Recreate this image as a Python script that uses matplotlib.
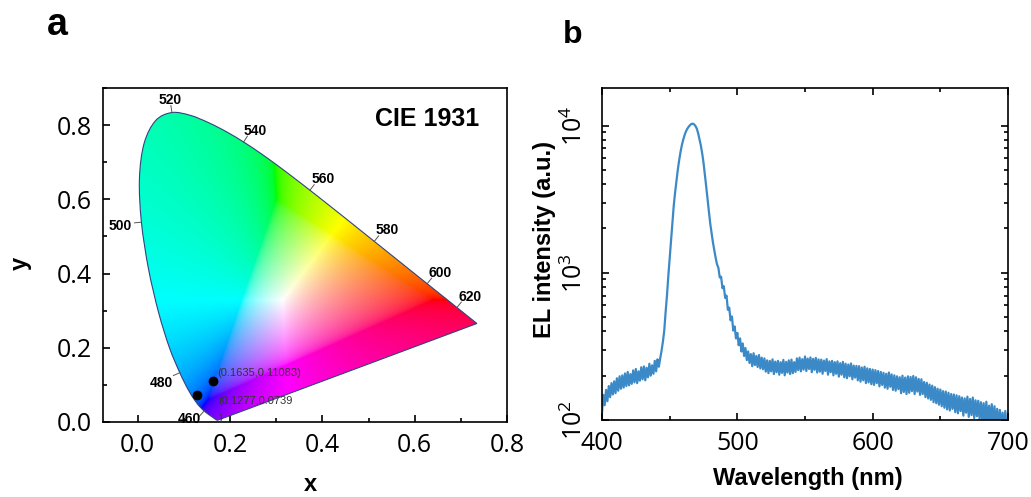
import numpy as np
import matplotlib
matplotlib.use("Agg")
import matplotlib.pyplot as plt
from matplotlib.path import Path
from matplotlib.patches import PathPatch
from matplotlib.ticker import MultipleLocator, LogLocator, NullFormatter

plt.rcParams['font.family'] = ['Open Sans', 'DejaVu Sans']
plt.rcParams['mathtext.fontset'] = 'custom'
plt.rcParams['mathtext.rm'] = 'Open Sans'
plt.rcParams['mathtext.it'] = 'Open Sans:italic'
plt.rcParams['mathtext.bf'] = 'Open Sans:bold'

BOLD = dict(family='Liberation Sans', weight='bold')

# ---- CIE 1931 2-degree spectral locus (chromaticity x, y every 5 nm) ----
locus_wl = [380, 385, 390, 395, 400, 405, 410, 415, 420, 425, 430, 435, 440, 445,
            450, 455, 460, 465, 470, 475, 480, 485, 490, 495, 500, 505, 510, 515,
            520, 525, 530, 535, 540, 545, 550, 555, 560, 565, 570, 575, 580, 585,
            590, 595, 600, 605, 610, 615, 620, 625, 630, 635, 640, 645, 650, 655,
            660, 665, 670, 675, 680, 685, 690, 695, 700]
locus_x = [0.1741, 0.1740, 0.1738, 0.1736, 0.1733, 0.1730, 0.1726, 0.1721, 0.1714,
           0.1703, 0.1689, 0.1669, 0.1644, 0.1611, 0.1566, 0.1510, 0.1440, 0.1355,
           0.1241, 0.1096, 0.0913, 0.0687, 0.0454, 0.0235, 0.0082, 0.0039, 0.0139,
           0.0389, 0.0743, 0.1142, 0.1547, 0.1929, 0.2296, 0.2658, 0.3016, 0.3373,
           0.3731, 0.4087, 0.4441, 0.4788, 0.5125, 0.5448, 0.5752, 0.6029, 0.6270,
           0.6482, 0.6658, 0.6801, 0.6915, 0.7006, 0.7079, 0.7140, 0.7190, 0.7230,
           0.7260, 0.7283, 0.7300, 0.7311, 0.7320, 0.7327, 0.7334, 0.7340, 0.7344,
           0.7346, 0.7347]
locus_y = [0.0050, 0.0050, 0.0049, 0.0049, 0.0048, 0.0048, 0.0048, 0.0048, 0.0051,
           0.0058, 0.0069, 0.0086, 0.0109, 0.0138, 0.0177, 0.0227, 0.0297, 0.0399,
           0.0578, 0.0868, 0.1327, 0.2007, 0.2950, 0.4127, 0.5384, 0.6548, 0.7502,
           0.8120, 0.8338, 0.8262, 0.8059, 0.7816, 0.7543, 0.7243, 0.6923, 0.6589,
           0.6245, 0.5896, 0.5547, 0.5202, 0.4866, 0.4544, 0.4242, 0.3965, 0.3725,
           0.3514, 0.3340, 0.3197, 0.3083, 0.2993, 0.2920, 0.2859, 0.2809, 0.2770,
           0.2740, 0.2717, 0.2700, 0.2689, 0.2680, 0.2673, 0.2666, 0.2660, 0.2656,
           0.2654, 0.2653]
locus_labels = [460, 480, 500, 520, 540, 560, 580, 600, 620]

# measured colour coordinates
cie_x = [0.1635, 0.1277]
cie_y = [0.11083, 0.0739]
cie_text = ['(0.1635,0.11083)', '(0.1277,0.0739\n)']

# ---- EL spectrum (1 nm steps) ----
wavelength = np.arange(400, 701)
el_intensity = [
    112, 148, 126, 160, 134, 170, 143, 178, 149, 183,
    152, 192, 158, 198, 163, 201, 166, 207, 170, 212,
    172, 205, 176, 217, 180, 222, 178, 214, 185, 228,
    189, 231, 186, 226, 195, 241, 200, 235, 206, 252,
    214, 258, 230, 262, 295, 340, 405, 540, 700, 950,
    1250, 1650, 2150, 2850, 3500, 4200, 5000, 5800, 6600, 7350,
    8000, 8600, 9100, 9500, 9800, 10050, 10250, 10300, 10200, 9950,
    9550, 8900, 8100, 7350, 6500, 5600, 4650, 3850, 3150, 2600,
    2150, 1850, 1600, 1420, 1260, 1140, 1080, 930, 940, 785,
    810, 675, 700, 560, 580, 475, 505, 405, 432, 358,
    390, 322, 358, 292, 331, 272, 308, 255, 292, 244,
    280, 232, 284, 236, 272, 229, 276, 224, 265, 221,
    262, 213, 254, 208, 252, 214, 258, 205, 249, 211,
    252, 203, 247, 209, 256, 201, 248, 210, 254, 205,
    257, 208, 247, 212, 262, 218, 265, 214, 259, 220,
    270, 215, 261, 222, 266, 211, 260, 219, 264, 210,
    258, 213, 257, 206, 253, 215, 259, 203, 250, 211,
    252, 201, 247, 206, 250, 197, 243, 203, 248, 195,
    241, 192, 238, 198, 242, 189, 234, 194, 233, 186,
    232, 182, 227, 186, 230, 178, 224, 180, 222, 175,
    220, 173, 218, 178, 215, 169, 212, 173, 209, 166,
    206, 163, 210, 168, 204, 160, 201, 158, 198, 162,
    195, 152, 200, 155, 194, 150, 198, 153, 196, 157,
    199, 150, 195, 156, 190, 148, 189, 150, 181, 143,
    179, 140, 174, 137, 171, 132, 167, 130, 163, 127,
    161, 124, 157, 121, 156, 118, 153, 116, 150, 119,
    149, 113, 147, 111, 145, 115, 142, 107, 140, 112,
    144, 105, 139, 108, 142, 103, 136, 106, 135, 101,
    132, 99, 130, 95, 133, 94, 125, 97, 128, 90,
    124, 88, 119, 85, 117, 87, 112, 83, 115, 86,
    92]

fig = plt.figure(figsize=(10.31, 4.97), dpi=100)
ax_a = fig.add_axes([0.0999, 0.151, 0.3919, 0.672])
ax_b = fig.add_axes([0.5839, 0.155, 0.3938, 0.668])

# ================= panel a: chromaticity diagram =================
ax_a.set_xlim(-0.075, 0.8)
ax_a.set_ylim(0, 0.9)

# colour fill: XYZ -> linear sRGB, out-of-gamut colours desaturated toward white,
# normalised to full brightness, then sRGB-encoded
gx = np.linspace(0.0, 0.75, 700)
gy = np.linspace(0.001, 0.85, 700)
GX, GY = np.meshgrid(gx, gy)
XYZ = np.stack([GX / GY, np.ones_like(GX), (1 - GX - GY) / GY])
M = np.array([[3.2406, -1.5372, -0.4986],
              [-0.9689, 1.8758, 0.0415],
              [0.0557, -0.2040, 1.0570]])
rgb = np.einsum('ij,jkl->kli', M, XYZ)
rgb = rgb - np.minimum(rgb.min(axis=2, keepdims=True), 0)
rgb = rgb / (rgb.max(axis=2, keepdims=True) + 1e-12)
srgb = np.where(rgb <= 0.0031308, 12.92 * rgb, 1.055 * rgb ** (1 / 2.4) - 0.055)
srgb = np.clip(srgb, 0, 1)
im = ax_a.imshow(srgb, extent=(0.0, 0.75, 0.001, 0.85), origin='lower',
                 interpolation='bilinear', aspect='auto', zorder=1)

# smooth outline of the locus (Catmull-Rom segments as cubic Beziers)
P = np.column_stack([locus_x, locus_y])
n_pts = len(P)
verts = [P[0]]
codes = [Path.MOVETO]
for i in range(n_pts - 1):
    p_prev = P[max(i - 1, 0)]
    p_next2 = P[min(i + 2, n_pts - 1)]
    c1 = P[i] + (P[i + 1] - p_prev) / 6
    c2 = P[i + 1] - (p_next2 - P[i]) / 6
    verts += [c1, c2, P[i + 1]]
    codes += [Path.CURVE4] * 3
verts += [P[0], P[0]]
codes += [Path.LINETO, Path.CLOSEPOLY]
outline = PathPatch(Path(np.array(verts), codes), facecolor='none',
                    edgecolor='#34437e', lw=0.8, zorder=2)
ax_a.add_patch(outline)
im.set_clip_path(outline)

# wavelength marks along the locus
trans = ax_a.transData
inv = trans.inverted()
white = trans.transform((0.3127, 0.329))
for wl in locus_labels:
    i = locus_wl.index(wl)
    p = trans.transform((locus_x[i], locus_y[i]))
    a = trans.transform((locus_x[i - 1], locus_y[i - 1]))
    b = trans.transform((locus_x[i + 1], locus_y[i + 1]))
    t = (b - a) / np.hypot(*(b - a))
    n = np.array([t[1], -t[0]])
    if np.dot(n, p - white) < 0:
        n = -n
    p0 = inv.transform(p)
    p1 = inv.transform(p + n * 7)
    ax_a.plot([p0[0], p1[0]], [p0[1], p1[1]], color='#555555', lw=0.7, zorder=3)
    d = 9 + np.hypot(12 * n[0], 6 * n[1])
    if n[0] > 0:
        shift = np.array([2.0, -3.0])
    elif n[1] < -0.5:
        shift = np.array([-3.0, 5.0])
    else:
        shift = np.array([0.0, -2.0])
    pt = inv.transform(p + n * d + shift)
    ax_a.text(pt[0], pt[1], str(wl), ha='center', va='center', fontsize=10,
              zorder=4, **BOLD)

ax_a.plot(cie_x, cie_y, 'o', color='black', ms=6, zorder=5)
ax_a.text(cie_x[0] + 0.008, cie_y[0] + 0.022, cie_text[0], fontsize=8,
          family='Liberation Sans', color='#333333', ha='left', va='center', zorder=6)
first, second = cie_text[1].split('\n')
ax_a.text(cie_x[1] + 0.046, cie_y[1] - 0.017, first, fontsize=8,
          family='Liberation Sans', color='#333333', ha='left', va='center', zorder=6)
ax_a.text(cie_x[1] + 0.048, cie_y[1] - 0.063, second, fontsize=8,
          family='Liberation Sans', color='#333333', ha='left', va='center', zorder=6)

ax_a.text(0.515, 0.816, 'CIE 1931', fontsize=18, ha='left', va='center', **BOLD)

ax_a.xaxis.set_major_locator(MultipleLocator(0.2))
ax_a.xaxis.set_minor_locator(MultipleLocator(0.1))
ax_a.yaxis.set_major_locator(MultipleLocator(0.2))
ax_a.yaxis.set_minor_locator(MultipleLocator(0.1))
ax_a.tick_params(which='both', direction='in', top=False, right=False,
                 width=1.2, labelsize=18, pad=8)
ax_a.tick_params(which='major', length=5)
ax_a.tick_params(which='minor', length=3)
for s in ax_a.spines.values():
    s.set_linewidth(1.2)

# ================= panel b: EL spectrum =================
ax_b.semilogy(wavelength, el_intensity, color='#3b8ac7', lw=1.6)
ax_b.set_xlim(400, 700)
ax_b.set_ylim(100, 1.8e4)
ax_b.xaxis.set_major_locator(MultipleLocator(100))
ax_b.xaxis.set_minor_locator(MultipleLocator(50))
ax_b.yaxis.set_major_locator(LogLocator(base=10))
ax_b.yaxis.set_minor_locator(LogLocator(base=10, subs=np.arange(2, 10)))
ax_b.yaxis.set_minor_formatter(NullFormatter())
ax_b.tick_params(which='both', direction='in', top=True, right=True,
                 width=1.2, labelsize=18)
ax_b.tick_params(which='major', length=5)
ax_b.tick_params(which='minor', length=3)
ax_b.tick_params(axis='x', pad=8)
ax_b.tick_params(axis='y', labelrotation=90, pad=10)
for lbl in ax_b.get_yticklabels():
    lbl.set_va('center')
for s in ax_b.spines.values():
    s.set_linewidth(1.2)

# axis titles and panel letters
fig.text(310 / 1031, 1 - 491 / 497, 'x', fontsize=17, ha='center', va='baseline', **BOLD)
fig.text(20 / 1031, 1 - 263 / 497, 'y', fontsize=17, ha='center', va='center',
         rotation=90, **BOLD)
fig.text(808 / 1031, 1 - 485 / 497, 'Wavelength (nm)', fontsize=17, ha='center',
         va='baseline', **BOLD)
fig.text(545 / 1031, 1 - 240 / 497, 'EL intensity (a.u.)', fontsize=17, ha='center',
         va='center', rotation=90, **BOLD)
fig.text(47 / 1031, 1 - 35 / 497, 'a', fontsize=27, ha='left', va='baseline', **BOLD)
fig.text(563 / 1031, 1 - 43 / 497, 'b', fontsize=23, ha='left', va='baseline', **BOLD)

fig.savefig('out.png', dpi=100, facecolor='white')
